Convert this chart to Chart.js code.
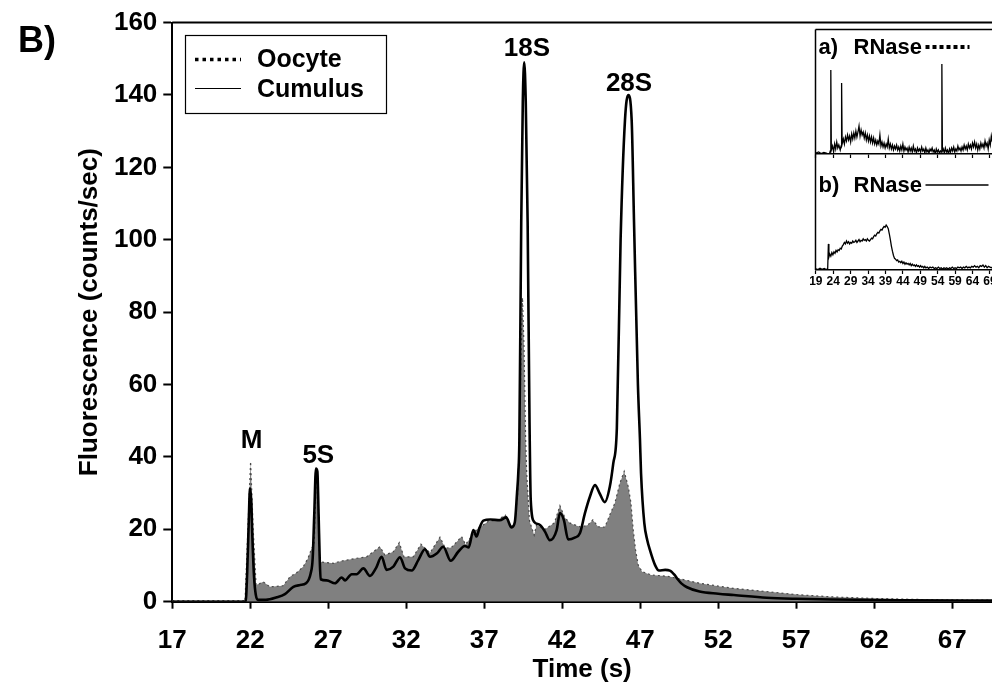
<!DOCTYPE html>
<html>
<head>
<meta charset="utf-8">
<title>Oocyte vs cumulus RNA profile</title>
<script src="https://cdn.jsdelivr.net/npm/chart.js@4.4.1/dist/chart.umd.min.js"></script>
<style>
  html, body { margin: 0; padding: 0; background: #fff; }
  #wrap { position: relative; width: 992px; height: 692px; overflow: hidden; background: #fff; }
  canvas { position: absolute; }
  #mainChart { left: 0; top: 0; }
  #insetA { left: 814px; top: 26px; }
  #insetB { left: 806px; top: 150px; }
</style>
</head>
<body>
<div id="wrap">
  <canvas id="mainChart" width="992" height="692"></canvas>
  <canvas id="insetA" width="178" height="134"></canvas>
  <canvas id="insetB" width="186" height="140"></canvas>
</div>
<script>
// Axis ticks
const timeTicks = [17, 22, 27, 32, 37, 42, 47, 52, 57, 62, 67];
const fluorTicks = [0, 20, 40, 60, 80, 100, 120, 140, 160];
const insetTicks = [19, 24, 29, 34, 39, 44, 49, 54, 59, 64, 69];

// Cumulus trace (black line)
const cumulusTime = [
  17, 21.7, 21.8, 21.9, 21.98, 22.06, 22.14, 22.24, 22.35, 22.51,
  23.0, 23.7, 24.22, 24.76, 25.19, 25.57, 25.87, 26.0, 26.1, 26.21,
  26.3, 26.38, 26.45, 26.51, 26.9, 27.43, 27.86, 28.07, 28.5, 28.82,
  29.25, 29.67, 30.05, 30.42, 30.74, 31.17, 31.6, 31.92, 32.35, 32.77,
  33.2, 33.52, 33.95, 34.37, 34.85, 35.33, 35.76, 36.0, 36.3, 36.5,
  36.7, 36.94, 37.4, 38.0, 38.4, 38.75, 38.96, 39.1, 39.18, 39.25,
  39.37, 39.47, 39.56, 39.66, 39.78, 39.9, 39.98, 40.19, 40.57, 40.9,
  41.2, 41.64, 41.85, 42.1, 42.38, 42.8, 43.13, 43.45, 43.77, 44.1,
  44.4, 44.73, 45.05, 45.27, 45.5, 45.74, 46.02, 46.23, 46.45, 46.6,
  46.85, 46.98, 47.05, 47.26, 47.45, 47.62, 47.95, 48.2, 48.6, 48.9,
  49.2, 49.4, 49.65, 50.0, 50.8, 52.0, 53.0, 55.1, 57.0, 59.4,
  63.7, 69.6
];
const cumulusSignal = [
  0, 0, 8, 22, 31.3, 28, 17, 6.9, 2, 0.5,
  0.5, 1.2, 2.1, 4.1, 4.6, 5.1, 7.8, 12, 24, 36.8,
  36, 24, 12, 6.2, 5.9, 5.1, 6.7, 5.9, 7.6, 7.6,
  9.2, 7.1, 9.2, 12.4, 8.8, 9.7, 12.3, 9.2, 8.6, 11.5,
  14.5, 12.4, 13.3, 15.2, 11.3, 13.8, 15.4, 15, 19.8, 18,
  20.5, 22.4, 22.7, 22.5, 23.3, 20.5, 22, 30, 35.5, 44.7,
  105, 138, 149, 138, 105, 50, 28, 22.1, 21.2, 19.3,
  17, 19.8, 24.5, 22.6, 17.2, 17.7, 18.9, 24.4, 29, 32.2,
  29.9, 27.5, 31.8, 38.2, 48, 100, 133, 140, 133, 105,
  60, 45, 35.5, 21.7, 17, 14.3, 10.1, 8.6, 8.8, 8.6,
  7.4, 6.2, 5.0, 4.0, 2.8, 2.2, 1.85, 1.1, 0.8, 0.6,
  0.4, 0.3
];

// Oocyte trace (grey area)
const oocyteTime = [
  17, 21.6, 21.66, 21.87, 22.02, 22.19, 22.37, 22.6, 22.83, 23.26,
  24.1, 24.55, 24.97, 25.4, 25.7, 25.93, 26.1, 26.2, 26.27, 26.35,
  26.42, 26.47, 26.9, 27.32, 27.8, 28.18, 28.82, 29.46, 29.89, 30.31,
  30.63, 31.17, 31.55, 31.85, 32.45, 32.94, 33.52, 34.16, 34.5, 34.9,
  35.55, 35.8, 36.5, 37.26, 37.8, 38.35, 38.7, 38.95, 39.15, 39.3,
  39.45, 39.55, 39.65, 39.72, 39.9, 40.2, 40.35, 40.9, 41.5, 41.85,
  42.17, 42.5, 43.2, 43.64, 43.96, 44.3, 44.73, 45.05, 45.37, 45.69,
  45.97, 46.23, 46.4, 46.55, 46.7, 46.87, 47.12, 47.7, 48.78, 49.87,
  50.8, 52.0, 52.96, 55.1, 57.2, 59.4, 62.0, 65.0, 69.6
];
const oocyteSignal = [
  0.3, 0.3, 0, 22.6, 38.7, 19.8, 4.6, 5.0, 5.5, 4.1,
  4.4, 6.9, 8, 9.7, 12, 14.7, 16, 30, 36, 30,
  14, 11, 10.8, 10.6, 11.2, 11.5, 12, 12.4, 13.8, 15.2,
  12.9, 13.8, 16.3, 12.4, 12.4, 15.9, 13.5, 17.8, 14.8, 15,
  18, 15.8, 19.9, 22.2, 22.5, 23.9, 21, 21.5, 30, 55,
  84, 70, 45, 35.5, 22.3, 18.4, 21.2, 20, 21.8, 26.5,
  23.2, 21.7, 20.6, 21.2, 22.6, 20.7, 20.6, 24, 27.2, 32.7,
  36, 31.8, 27.4, 19.8, 14.3, 10.1, 8.3, 7.4, 7.0, 6.0,
  5.1, 4.3, 3.7, 2.8, 1.9, 1.3, 0.9, 0.6, 0.4
];

// Peak names and where their labels sit (time, fluorescence)
const peakNames = ['M', '5S', '18S', '28S'];
const peakTime = [22.09, 26.36, 39.73, 46.28];
const peakLevel = [45.1, 41.0, 153.3, 143.6];

// Inset a) RNase treated oocyte (relative units)
const rnaseATime = [
  19, 19.8, 20.5, 21.3, 22, 22.6, 22.95, 23.15, 23.3, 23.45,
  23.8, 24.1, 24.4, 24.7, 25.0, 25.3, 25.6, 26.0, 26.25, 26.4,
  26.55, 26.9, 27.2, 27.5, 27.8, 28.1, 28.4, 28.7, 29.0, 29.3,
  29.6, 29.9, 30.2, 30.5, 30.8, 31.1, 31.4, 31.7, 32.0, 32.3,
  32.6, 32.9, 33.2, 33.5, 33.8, 34.1, 34.4, 34.7, 35.0, 35.3,
  35.6, 35.9, 36.2, 36.5, 36.8, 37.1, 37.4, 37.7, 38.0, 38.3,
  38.6, 38.9, 39.2, 39.5, 39.8, 40.1, 40.4, 40.7, 41.0, 41.3,
  41.6, 41.9, 42.2, 42.5, 42.8, 43.1, 43.4, 43.7, 44.0, 44.3,
  44.6, 44.9, 45.2, 45.5, 45.8, 46.1, 46.4, 46.7, 47.0, 47.3,
  47.6, 47.9, 48.2, 48.5, 48.8, 49.1, 49.4, 49.7, 50.0, 50.3,
  50.6, 50.9, 51.2, 51.5, 51.8, 52.1, 52.4, 52.7, 53.0, 53.3,
  53.6, 53.9, 54.2, 54.5, 54.8, 55.05, 55.2, 55.35, 55.6, 55.9,
  56.2, 56.5, 56.8, 57.1, 57.4, 57.7, 58.0, 58.3, 58.6, 58.9,
  59.2, 59.5, 59.8, 60.1, 60.4, 60.7, 61.0, 61.3, 61.6, 61.9,
  62.2, 62.5, 62.8, 63.1, 63.4, 63.7, 64.0, 64.3, 64.6, 64.9,
  65.2, 65.5, 65.8, 66.1, 66.4, 66.7, 67.0, 67.3, 67.6, 67.9,
  68.2, 68.5, 68.8, 69.1, 69.4, 69.7
];
const rnaseASignal = [
  1, 2, 0.5, 1.5, 1, 0, 0.5, 3, 84, 4,
  8, 2, 10, 5, 12, 6, 9, 4, 8, 71,
  10, 15, 10, 17, 13, 19, 14, 18, 12, 20,
  15, 21, 16, 23, 17, 22, 28, 18, 24, 19,
  22, 16, 21, 14, 19, 13, 18, 12, 17, 11,
  16, 10, 14, 9, 13, 10, 19, 8, 12, 7,
  11, 6, 10, 7, 15, 6, 10, 5, 9, 4,
  8, 5, 9, 4, 7, 3, 8, 4, 10, 3,
  7, 4, 6, 2, 7, 3, 6, 2, 8, 3,
  5, 1, 6, 3, 5, 2, 7, 3, 5, 1,
  6, 2, 4, 1, 5, 3, 6, 2, 4, 0,
  5, 2, 4, 1, 3, 2, 90, 3, 5, 1,
  6, 2, 4, 0, 5, 2, 6, 3, 7, 2,
  5, 3, 8, 4, 6, 3, 7, 4, 9, 5,
  8, 4, 10, 6, 9, 5, 11, 7, 12, 6,
  10, 4, 9, 5, 11, 7, 10, 6, 13, 8,
  11, 5, 14, 9, 18, 12
];

// Inset b) RNase treated cumulus (relative units)
const rnaseBTime = [
  19, 19.6, 20.2, 20.8, 21.4, 22.0, 22.4, 22.6, 22.75, 23.0,
  23.3, 23.6, 23.9, 24.2, 24.5, 24.8, 25.1, 25.4, 25.7, 26.0,
  26.3, 26.6, 26.9, 27.2, 27.5, 27.8, 28.1, 28.4, 28.7, 29.0,
  29.3, 29.6, 29.9, 30.2, 30.5, 30.8, 31.1, 31.4, 31.7, 32.0,
  32.3, 32.6, 32.9, 33.2, 33.5, 33.8, 34.1, 34.4, 34.7, 35.0,
  35.3, 35.6, 35.9, 36.2, 36.5, 36.8, 37.1, 37.4, 37.7, 38.0,
  38.3, 38.6, 38.9, 39.2, 39.5, 39.8, 40.1, 40.4, 40.7, 41.0,
  41.3, 41.6, 41.9, 42.2, 42.5, 42.8, 43.1, 43.4, 43.7, 44.0,
  44.3, 44.6, 44.9, 45.2, 45.5, 45.8, 46.1, 46.4, 46.7, 47.0,
  47.3, 47.6, 47.9, 48.2, 48.5, 48.8, 49.1, 49.4, 49.7, 50.0,
  50.3, 50.6, 51.0, 51.4, 51.8, 52.2, 52.6, 53.0, 53.4, 53.8,
  54.2, 54.6, 55.0, 55.4, 55.8, 56.2, 56.6, 57.0, 57.4, 57.8,
  58.2, 58.6, 59.0, 59.4, 59.8, 60.2, 60.6, 61.0, 61.4, 61.8,
  62.2, 62.6, 63.0, 63.4, 63.8, 64.2, 64.6, 65.0, 65.4, 65.8,
  66.2, 66.6, 67.0, 67.4, 67.8, 68.2, 68.6, 69.0, 69.4, 69.7
];
const rnaseBSignal = [
  1.5, 0.5, 2.5, 1, 2, 0.5, 1.5, 36, 18, 22,
  19, 24, 21, 25, 23, 27, 25, 28, 27, 30,
  29, 33, 35, 38, 36, 40, 37, 39, 36, 38,
  37, 40, 38, 39, 41, 38, 40, 42, 39, 41,
  40, 43, 41, 42, 40, 43, 41, 40, 42, 44,
  43, 46, 48, 47, 50, 52, 51, 54, 56, 55,
  58, 60, 59, 62, 60, 57, 50, 42, 33, 26,
  20, 16, 15, 13, 14, 11, 12, 10, 12, 9,
  11, 8, 10, 8, 9, 7, 9, 6, 8, 6,
  7, 5, 7, 5, 6, 4, 6, 4, 5, 3,
  5, 3, 4, 2, 4, 3, 4, 2, 3, 2,
  4, 2, 3, 1, 3, 2, 3, 1, 3, 2,
  4, 2, 3, 2, 4, 3, 4, 2, 4, 3,
  5, 3, 4, 3, 5, 4, 6, 4, 5, 3,
  6, 5, 7, 4, 6, 3, 5, 4, 3, 4
];

const FONT = "Arial, 'Liberation Sans', sans-serif";
Chart.defaults.font.family = FONT;
Chart.defaults.color = '#000';

function toPoints(xs, ys) {
  return xs.map((x, i) => ({ x: x, y: ys[i] }));
}

function fixedTicks(values) {
  return scale => { scale.ticks = values.map(v => ({ value: v })); };
}

// Top frame, panel tag, peak names and legend box of the main plot
const mainDecor = {
  id: 'mainDecor',
  afterDraw(chart) {
    const { ctx, chartArea, scales } = chart;
    ctx.save();
    ctx.strokeStyle = '#000';
    ctx.fillStyle = '#000';

    ctx.lineWidth = 2;
    ctx.beginPath();
    ctx.moveTo(chartArea.left, chartArea.top);
    ctx.lineTo(chartArea.right, chartArea.top);
    ctx.stroke();

    ctx.textBaseline = 'alphabetic';
    ctx.textAlign = 'left';
    ctx.font = `bold 36px ${FONT}`;
    ctx.fillText('B)', 18, 52);

    ctx.font = `bold 26px ${FONT}`;
    ctx.textAlign = 'center';
    peakNames.forEach((name, i) => {
      const x = scales.x.getPixelForValue(peakTime[i]);
      const y = scales.y.getPixelForValue(peakLevel[i]);
      ctx.fillText(name, x, y + 26 * 0.358);
    });

    // legend
    ctx.lineWidth = 1.2;
    ctx.strokeRect(185.5, 35.5, 201, 78);
    const sets = chart.data.datasets;
    const oocyte = sets.find(d => d.label === 'Oocyte');
    const cumulus = sets.find(d => d.label === 'Cumulus');
    ctx.lineWidth = 3.5;
    ctx.setLineDash([3.5, 4]);
    ctx.beginPath();
    ctx.moveTo(195, 59.5);
    ctx.lineTo(241, 59.5);
    ctx.stroke();
    ctx.setLineDash([]);
    ctx.lineWidth = 1.2;
    ctx.beginPath();
    ctx.moveTo(195, 88.5);
    ctx.lineTo(241, 88.5);
    ctx.stroke();
    ctx.textAlign = 'left';
    ctx.font = `bold 25px ${FONT}`;
    ctx.fillText(oocyte.label, 257, 67);
    ctx.fillText(cumulus.label, 257, 97);
    ctx.restore();
  }
};

const mainChart = new Chart(document.getElementById('mainChart'), {
  type: 'line',
  data: {
    datasets: [
      {
        label: 'Cumulus',
        data: toPoints(cumulusTime, cumulusSignal),
        borderColor: '#000',
        borderWidth: 2.6,
        pointRadius: 0,
        fill: false,
        cubicInterpolationMode: 'monotone'
      },
      {
        label: 'Oocyte',
        data: toPoints(oocyteTime, oocyteSignal),
        borderColor: '#4a4a4a',
        borderWidth: 1.2,
        borderDash: [2, 3],
        pointRadius: 0,
        fill: 'origin',
        backgroundColor: '#808080',
        tension: 0
      }
    ]
  },
  options: {
    responsive: false,
    animation: false,
    layout: { padding: { left: 0, right: 0, top: 22.6, bottom: 0 } },
    plugins: { legend: { display: false }, tooltip: { enabled: false } },
    scales: {
      x: {
        type: 'linear',
        min: 17,
        max: 69.55,
        afterBuildTicks: fixedTicks(timeTicks),
        afterFit: scale => { scale.height = 90.3; },
        border: { display: true, color: '#000', width: 2 },
        grid: { display: true, drawOnChartArea: false, drawTicks: true, tickLength: 7, tickWidth: 2, tickColor: '#000' },
        ticks: { color: '#000', font: { size: 26, weight: 'bold' }, padding: 17, maxRotation: 0, autoSkip: false },
        title: { display: true, text: 'Time (s)', color: '#000', font: { size: 26, weight: 'bold' }, padding: { top: 0, bottom: 6.4 } }
      },
      y: {
        type: 'linear',
        min: 0,
        max: 160,
        afterBuildTicks: fixedTicks(fluorTicks),
        afterFit: scale => { scale.width = 172.3; },
        border: { display: true, color: '#000', width: 2 },
        grid: { display: true, drawOnChartArea: false, drawTicks: true, tickLength: 9, tickWidth: 2, tickColor: '#000' },
        ticks: { color: '#000', font: { size: 26, weight: 'bold' }, padding: 6 },
        title: { display: true, text: 'Fluorescence (counts/sec)', color: '#000', font: { size: 26, weight: 'bold' }, padding: { top: 74.4, bottom: 0 } }
      }
    }
  },
  plugins: [mainDecor]
});

// Frame line and caption for each inset panel
function insetDecor(opts) {
  return {
    id: 'insetDecor',
    afterDraw(chart) {
      const { ctx, chartArea } = chart;
      ctx.save();
      ctx.strokeStyle = '#000';
      ctx.fillStyle = '#000';
      ctx.lineWidth = 1.5;
      ctx.beginPath();
      ctx.moveTo(chartArea.left, chartArea.top);
      ctx.lineTo(chartArea.left, chartArea.bottom);
      if (opts.frameTop) {
        ctx.moveTo(chartArea.left, chartArea.top);
        ctx.lineTo(chartArea.right, chartArea.top);
      }
      ctx.stroke();

      ctx.font = `bold 22px ${FONT}`;
      ctx.textAlign = 'left';
      ctx.textBaseline = 'alphabetic';
      ctx.fillText(opts.tag, chartArea.left + 3, opts.textY);
      ctx.fillText('RNase', chartArea.left + 38, opts.textY);

      ctx.beginPath();
      if (opts.dotted) {
        ctx.lineWidth = 4;
        ctx.setLineDash([4, 3]);
        ctx.moveTo(chartArea.left + 110, opts.lineY);
        ctx.lineTo(chartArea.left + 154, opts.lineY);
      } else {
        ctx.lineWidth = 1.5;
        ctx.moveTo(chartArea.left + 110, opts.lineY);
        ctx.lineTo(chartArea.left + 173, opts.lineY);
      }
      ctx.stroke();
      ctx.restore();
    }
  };
}

function insetOptions(yMax, padLeft, padTop, axisHeight, showLabels) {
  return {
    responsive: false,
    animation: false,
    layout: { padding: { left: padLeft, right: 0, top: padTop, bottom: 0 } },
    plugins: { legend: { display: false }, tooltip: { enabled: false } },
    scales: {
      x: {
        type: 'linear',
        min: 18.9,
        max: 69.6,
        afterBuildTicks: fixedTicks(insetTicks),
        afterFit: scale => {
          scale.height = axisHeight;
          scale.paddingLeft = 0;
          scale.paddingRight = 0;
        },
        border: { display: true, color: '#000', width: 1.5 },
        grid: { display: true, drawOnChartArea: false, drawTicks: true, tickLength: 4, tickWidth: 1.2, tickColor: '#000' },
        ticks: { display: showLabels, color: '#000', font: { size: 12, weight: 'bold' }, padding: 0, maxRotation: 0, autoSkip: false }
      },
      y: { type: 'linear', min: 0, max: yMax, display: false }
    }
  };
}

const insetA = new Chart(document.getElementById('insetA'), {
  type: 'line',
  data: {
    datasets: [{
      label: 'RNase oocyte',
      data: toPoints(rnaseATime, rnaseASignal),
      borderColor: '#000',
      borderWidth: 1.3,
      pointRadius: 0,
      tension: 0
    }]
  },
  options: insetOptions(124.5, 1.5, 3.5, 6, false),
  plugins: [insetDecor({ tag: 'a)', frameTop: true, dotted: true, textY: 28, lineY: 21 })]
});

const insetB = new Chart(document.getElementById('insetB'), {
  type: 'line',
  data: {
    datasets: [{
      label: 'RNase cumulus',
      data: toPoints(rnaseBTime, rnaseBSignal),
      borderColor: '#000',
      borderWidth: 1.3,
      pointRadius: 0,
      tension: 0
    }]
  },
  options: insetOptions(160, 9.5, 4, 20, true),
  plugins: [insetDecor({ tag: 'b)', frameTop: false, dotted: false, textY: 42, lineY: 35 })]
});
</script>
</body>
</html>
